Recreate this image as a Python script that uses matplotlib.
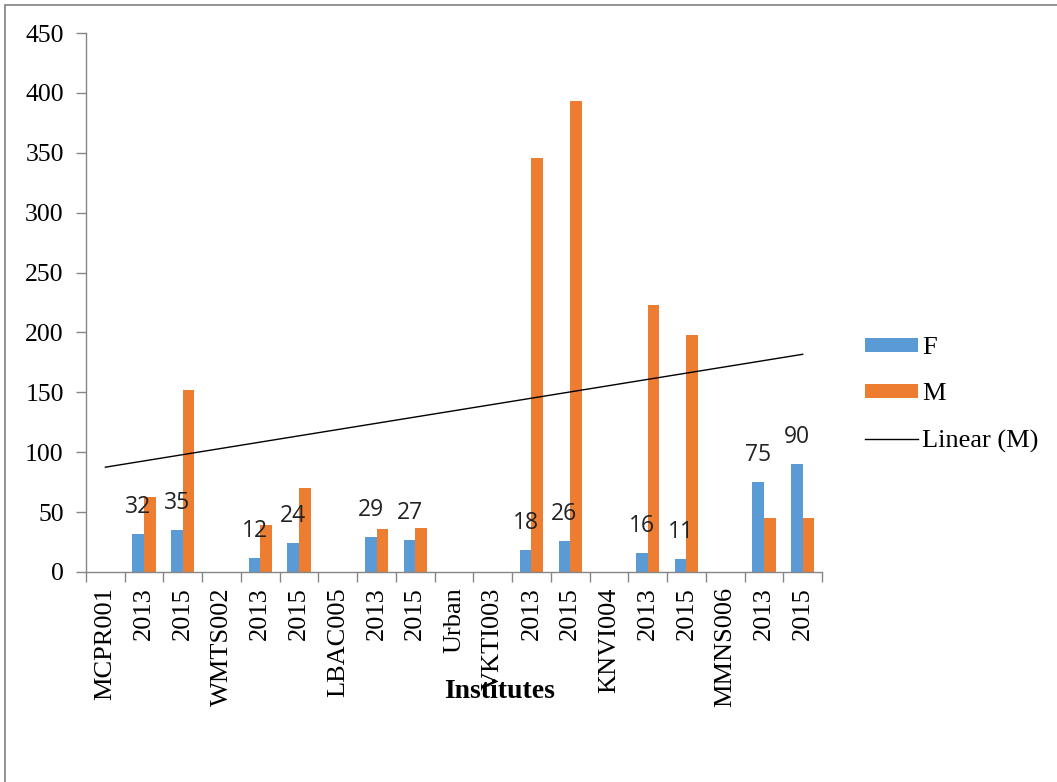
import numpy as np
import matplotlib
matplotlib.use("Agg")
import matplotlib.pyplot as plt
from matplotlib.patches import Rectangle, Patch
from matplotlib.lines import Line2D

# Category labels along the x axis
categories = ["MCPR001", "2013", "2015", "WMTS002", "2013", "2015", "LBAC005",
              "2013", "2015", "Urban", "VKTI003", "2013", "2015", "KNVI004",
              "2013", "2015", "MMNS006", "2013", "2015"]

# Female and male counts (None = no bar for that category)
female = [None, 32, 35, None, 12, 24, None, 29, 27, None, None, 18, 26,
          None, 16, 11, None, 75, 90]
male = [None, 63, 152, None, 39, 70, None, 36, 37, None, None, 346, 393,
        None, 223, 198, None, 45, 45]

y_ticks = [0, 50, 100, 150, 200, 250, 300, 350, 400, 450]

F_COLOR = "#5B9BD5"
M_COLOR = "#ED7D31"
AXIS_GRAY = "#868686"
SERIF = "Liberation Serif"

W, H = 1057, 782
fig = plt.figure(figsize=(W / 100, H / 100), dpi=100)

# Outer chart border
fig.patches.append(Rectangle((5 / W, -0.05), 1.2, 1 - 5 / H + 0.05,
                             transform=fig.transFigure, fill=False,
                             edgecolor="#8a8a8a", linewidth=1.3))

ax = fig.add_axes([86 / W, (H - 572) / H, (822 - 86) / W, (572 - 33) / H])

x = np.arange(len(categories))
bw = 0.3
f_vals = np.array([np.nan if v is None else v for v in female], dtype=float)
m_vals = np.array([np.nan if v is None else v for v in male], dtype=float)

ax.bar(x - bw / 2, np.nan_to_num(f_vals), width=bw, color=F_COLOR, zorder=2)
ax.bar(x + bw / 2, np.nan_to_num(m_vals), width=bw, color=M_COLOR, zorder=2)

# Value labels above the female bars
for xi, v in zip(x, f_vals):
    if not np.isnan(v):
        ax.annotate(f"{int(v)}", xy=(xi - bw / 2, v), xytext=(0, 19.5),
                    textcoords="offset points", ha="center", va="center",
                    fontsize=16.5, family="Open Sans", color="#222222",
                    zorder=4)

# Linear trend of the male series
mask = ~np.isnan(m_vals)
slope, intercept = np.polyfit(x[mask] + 1, m_vals[mask], 1)
ax.plot([x[0], x[-1]], [slope * (x[0] + 1) + intercept,
                        slope * (x[-1] + 1) + intercept],
        color="black", linewidth=1.0, zorder=3)

ax.set_xlim(-0.5, len(categories) - 0.5)
ax.set_ylim(0, 450)
ax.set_yticks(y_ticks)
ax.set_yticklabels([str(t) for t in y_ticks], fontsize=18.5, family=SERIF)

ax.set_xticks(x)
ax.set_xticklabels(categories, rotation=90, fontsize=19, family=SERIF,
                   va="top", ha="center")
ax.set_xticks(np.arange(-0.5, len(categories), 1.0), minor=True)
ax.tick_params(axis="x", which="major", length=0, pad=11)
ax.tick_params(axis="x", which="minor", length=7, color=AXIS_GRAY, width=1)
ax.tick_params(axis="y", length=7, color=AXIS_GRAY, width=1, pad=9)

for s in ["top", "right"]:
    ax.spines[s].set_visible(False)
for s in ["left", "bottom"]:
    ax.spines[s].set_color(AXIS_GRAY)
    ax.spines[s].set_linewidth(1)

fig.text(500 / W, 1 - 692 / H, "Institutes", ha="center", va="center",
         fontsize=20, fontweight="bold", family=SERIF)

handles = [Patch(facecolor=F_COLOR, label="F"),
           Patch(facecolor=M_COLOR, label="M"),
           Line2D([0], [0], color="black", linewidth=1.0, label="Linear (M)")]
fig.legend(handles=handles, loc="center left",
           bbox_to_anchor=(865 / W, 1 - 395 / H), frameon=False,
           prop={"family": SERIF, "size": 19}, handlelength=2.0,
           handleheight=0.45, handletextpad=0.15, labelspacing=0.92,
           borderaxespad=0, borderpad=0)

fig.savefig("out.png", dpi=100)
